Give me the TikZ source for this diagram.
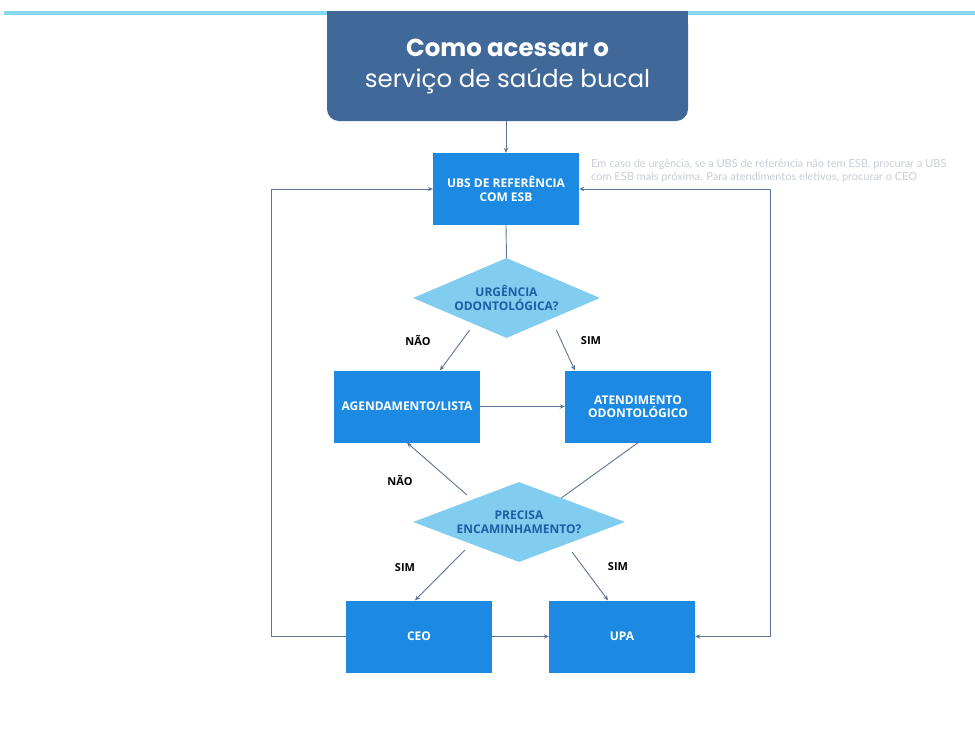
\documentclass[tikz,border=0pt]{standalone}
\usepackage{fontspec}
\setmainfont{Open Sans}
\newfontfamily\titlefont{Poppins}
\newfontfamily\notefont{Lato}
\usetikzlibrary{calc,shapes.geometric,arrows.meta}
\definecolor{bg}{HTML}{FFFFFF}
\definecolor{topline}{HTML}{86D8F2}
\definecolor{titlebg}{HTML}{40699A}
\definecolor{boxbg}{HTML}{1C8AE2}
\definecolor{decbg}{HTML}{80CDF0}
\definecolor{dectext}{HTML}{1D5FA3}
\definecolor{wirec}{HTML}{5F7596}
\definecolor{notec}{HTML}{C8CDD7}
\tikzset{
  titlebox/.style={rectangle, fill=titlebg, text=white, rounded corners=12pt, align=center,
    minimum width=361pt, minimum height=109pt, inner sep=0pt, font=\titlefont\fontsize{24.5}{30.5}\selectfont},
  box/.style={rectangle, fill=boxbg, text=white, align=center, inner sep=0pt,
    minimum width=146pt, minimum height=72pt, font=\fontsize{12}{13.5}\selectfont\bfseries},
  dec/.style={diamond, fill=decbg, text=dectext, align=center, inner sep=0pt,
    minimum height=80pt, font=\fontsize{12}{13.5}\selectfont\bfseries},
  wire/.style={draw=wirec, line width=0.9pt},
  arr/.style={wire, -{Stealth[length=5pt,width=4.5pt]}},
  arrs/.style={wire, {Stealth[length=5pt,width=4.5pt]}-{Stealth[length=5pt,width=4.5pt]}},
  lab/.style={text=black, font=\fontsize{11}{12}\selectfont\bfseries},
  notetext/.style={text=notec, align=left, inner sep=0pt, anchor=west,
    font=\notefont\fontsize{11}{13}\selectfont}
}
\begin{document}
\begin{tikzpicture}[x=1pt,y=-1pt]
  \useasboundingbox (0,0) rectangle (975,737);
  \fill[bg] (0,0) rectangle (975,737);
  \draw[topline, line width=3.5pt] (4,13) -- (975,13);

  % title
  \fill[titlebg] (327,11) rectangle (688,60);
  \node[titlebox] (title) at (507.5,66.5) {{\bfseries Como acessar o}\\serviço de saúde bucal};

  \node[box] (ubs) at (506,189) {UBS DE REFERÊNCIA\\COM ESB};
  \node[notetext] (nota) at (591,170.5) {Em caso de urgência, se a UBS de referência não tem ESB, procurar a UBS\\com ESB mais próxima. Para atendimentos eletivos, procurar o CEO};
  \node[dec, minimum width=187pt, aspect=2.34] (d1) at (506.5,298) {URGÊNCIA\\ODONTOLÓGICA?};
  \node[box] (agend) at (407,406.5) {AGENDAMENTO/LISTA};
  \node[box] (aten) at (638,406.5) {ATENDIMENTO\\ODONTOLÓGICO};
  \node[dec, minimum width=212pt, aspect=2.65] (d2) at (519,522) {PRECISA\\ENCAMINHAMENTO?};
  \node[box] (ceo) at (419,636.5) {CEO};
  \node[box] (upa) at (622,636.5) {UPA};

  \foreach \n/\x/\y/\t in {nao1/418/340/NÃO, sim1/591/341/SIM, nao2/400/480/NÃO,
                           sim2/405/568/SIM, sim3/618/567/SIM}
    \node[lab] (\n) at (\x,\y) {\t};

  \coordinate (lft) at (271,0);
  \coordinate (rgt) at (770,0);

  \draw[arr] (ubs.north |- title.south) -- (ubs.north);
  \draw[wire] (ubs.south) -- (d1.north);
  \draw[arr] ($(d1.south west)+(10,12)$) -- ($(agend.north)+(33,0)$);
  \draw[arr] ($(d1.south east)+(3,12)$) -- ($(aten.north west)+(10,0)$);
  \draw[arr] (agend.east) -- (aten.west);
  \draw[wire] (aten.south) -- ($(d2.north)!0.4!(d2.east)$);
  \draw[arr] ($(d2.north west)+(1,-7)$) -- (agend.south);
  \draw[arr] ($(d2.south west)+(-1,8)$) -- ($(ceo.north)+(-4,0)$);
  \draw[arr] ($(d2.south east)+(0,10)$) -- ($(upa.north)+(-14,0)$);
  \draw[arr] (ceo.east) -- (upa.west);
  \draw[arr] (ceo.west) -- (ceo.west -| lft) |- (ubs.west);
  \draw[arrs] (upa.east) -- (upa.east -| rgt) |- (ubs.east);
\end{tikzpicture}
\end{document}
